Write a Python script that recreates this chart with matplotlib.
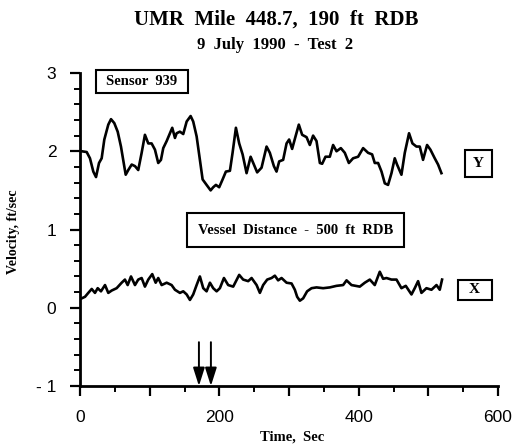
import matplotlib
matplotlib.use("Agg")
import matplotlib.pyplot as plt
from matplotlib.patches import Rectangle
from matplotlib.ticker import MultipleLocator, FuncFormatter

# ---- data ----
y_time = [2.4, 9.6, 14.3, 19.1, 23.0, 27.3, 31.1, 34.9, 40.6, 44.5, 49.2, 54.1, 58.8, 63.5, 65.6,
          69.3, 74.2, 78.9, 83.6, 88.5, 93.2, 98.0, 102.8, 107.6, 112.3, 116.2, 119.5, 124.4, 129.1,
          132.4, 136.3, 138.7, 143.4, 148.2, 153.1, 158.8, 162.5, 167.4, 172.1, 176.0, 181.7, 187.5,
          191.2, 195.1, 199.8, 204.7, 209.4, 215.2, 219.0, 223.8, 228.5, 233.4, 239.1, 244.9, 249.6,
          254.3, 260.6, 267.8, 272.5, 278.3, 282.1, 285.9, 291.6, 296.5, 300.2, 304.5, 309.4, 314.1,
          318.9, 325.2, 329.9, 334.6, 339.5, 344.3, 347.6, 352.4, 358.6, 363.3, 368.2, 374.4, 380.1,
          385.9, 392.0, 399.2, 406.4, 413.5, 419.3, 423.1, 427.9, 432.8, 437.5, 442.2, 447.1, 451.8,
          455.1, 461.4, 466.2, 472.3, 477.2, 482.9, 487.7, 492.4, 498.2, 503.0, 509.2, 514.0, 518.8]
y_vel = [2.00, 1.99, 1.91, 1.74, 1.67, 1.85, 1.91, 2.15, 2.34, 2.41, 2.36, 2.25, 2.06, 1.81, 1.70,
         1.76, 1.83, 1.81, 1.76, 1.98, 2.21, 2.10, 2.10, 2.02, 1.85, 1.89, 2.04, 2.13, 2.23,
         2.30, 2.17, 2.23, 2.25, 2.22, 2.38, 2.45, 2.38, 2.19, 1.89, 1.64, 1.57, 1.50,
         1.54, 1.57, 1.54, 1.64, 1.74, 1.75, 1.98, 2.30, 2.10, 1.96, 1.72, 1.93, 1.83,
         1.73, 1.79, 2.06, 1.98, 1.81, 1.74, 1.87, 1.89, 2.10, 2.15, 2.03, 2.19, 2.34,
         2.21, 2.18, 2.08, 2.20, 2.13, 1.85, 1.84, 1.93, 1.93, 2.08, 2.00, 2.04, 1.98,
         1.85, 1.91, 1.93, 2.04, 1.98, 1.96, 1.85, 1.85, 1.74, 1.59, 1.57, 1.72, 1.91,
         1.83, 1.70, 1.98, 2.23, 2.10, 2.06, 2.06, 1.89, 2.08, 2.02, 1.91, 1.83, 1.72]

x_time = [2.4, 7.2, 11.9, 16.8, 21.5, 25.4, 30.1, 35.9, 40.6, 45.5, 52.6, 59.8, 64.5, 68.4, 73.2,
          78.9, 83.6, 88.5, 93.2, 98.0, 103.7, 108.6, 112.3, 117.2, 124.4, 131.5, 136.3, 143.4,
          148.2, 153.1, 157.8, 162.5, 167.4, 172.1, 176.9, 181.7, 186.5, 191.2, 196.1, 200.8,
          206.6, 212.7, 219.9, 228.5, 234.2, 241.4, 246.3, 253.5, 258.2, 262.9, 268.7, 275.0,
          279.7, 284.4, 289.3, 296.5, 303.7, 308.4, 311.7, 315.6, 320.3, 326.0, 332.4, 339.5,
          349.0, 358.6, 368.2, 377.7, 382.6, 389.7, 401.6, 408.8, 416.0, 423.1, 430.3, 435.1,
          439.9, 447.1, 454.3, 461.4, 467.6, 475.8, 480.5, 485.3, 490.1, 497.3, 504.5, 511.7,
          516.4, 519.7]
x_vel = [0.12, 0.14, 0.19, 0.24, 0.19, 0.25, 0.21, 0.29, 0.19, 0.22, 0.25, 0.32, 0.36, 0.29, 0.40,
         0.29, 0.36, 0.38, 0.27, 0.36, 0.43, 0.32, 0.38, 0.29, 0.32, 0.29, 0.23, 0.19,
         0.21, 0.17, 0.10, 0.17, 0.29, 0.40, 0.25, 0.21, 0.32, 0.25, 0.21, 0.25,
         0.38, 0.29, 0.27, 0.42, 0.36, 0.34, 0.38, 0.29, 0.19, 0.29, 0.36, 0.38,
         0.41, 0.35, 0.38, 0.32, 0.31, 0.23, 0.14, 0.09, 0.12, 0.21, 0.25, 0.26,
         0.25, 0.26, 0.28, 0.29, 0.35, 0.29, 0.27, 0.32, 0.36, 0.29, 0.46, 0.37,
         0.38, 0.36, 0.36, 0.25, 0.28, 0.17, 0.25, 0.34, 0.19, 0.25, 0.23, 0.29,
         0.23, 0.36]

arrow_times = [170.7, 187.9]
x_tick_labels = {0: "0", 200: "200", 400: "400", 600: "600"}
y_tick_labels = {3: "3", 2: "2", 1: "1", 0: "0", -1: "- 1"}

title = "UMR  Mile  448.7,  190  ft  RDB"
subtitle = "9  July  1990  -  Test  2"

serif = ["Liberation Serif", "DejaVu Serif"]
sans = ["Liberation Sans", "DejaVu Sans"]

fig = plt.figure(figsize=(5.28, 4.48), dpi=100)
ax = fig.add_axes([80/528, 62/448, 418/528, 313/448])

ax.plot(y_time, y_vel, color="black", lw=1.9, solid_joinstyle="round")
ax.plot(x_time, x_vel, color="black", lw=1.9, solid_joinstyle="round")

ax.set_xlim(0, 600)
ax.set_ylim(-1, 3)
for s in ["top", "right"]:
    ax.spines[s].set_visible(False)
for s in ["left", "bottom"]:
    ax.spines[s].set_linewidth(2.0)

ax.xaxis.set_major_locator(MultipleLocator(100))
ax.xaxis.set_minor_locator(MultipleLocator(50))
ax.yaxis.set_major_locator(MultipleLocator(1))
ax.yaxis.set_minor_locator(MultipleLocator(0.2))
ax.xaxis.set_major_formatter(FuncFormatter(lambda v, p: x_tick_labels.get(int(round(v)), "")))
ax.yaxis.set_major_formatter(FuncFormatter(lambda v, p: y_tick_labels.get(int(round(v)), "")))
ax.tick_params(which="major", length=7, width=1.6, direction="out", pad=10, labelsize=12.5)
ax.tick_params(which="minor", length=4, width=1.4, direction="out")
for lab in ax.get_xticklabels() + ax.get_yticklabels():
    lab.set_fontfamily(sans)

# arrows
for t in arrow_times:
    ax.annotate("", xy=(t, -1.0), xytext=(t, -0.44),
                arrowprops=dict(arrowstyle="-|>,head_length=1.1,head_width=0.35",
                                color="black", lw=1.4, shrinkA=0, shrinkB=0))

# boxes
def box(x0, x1, y0, y1, xc, yc, txt, fs):
    ax.add_patch(Rectangle((x0, y0), x1 - x0, y1 - y0, fill=False, edgecolor="black",
                           lw=1.5, clip_on=False))
    ax.text(xc, yc, txt, ha="center", va="center", fontsize=fs, fontweight="bold",
            family=serif, clip_on=False)

box(23, 155, 2.75, 3.04, 89, 2.895, "Sensor  939", 10.5)
box(153.6, 464.7, 0.77, 1.21, 309, 0.99, "Vessel  Distance  -  500  ft  RDB", 10.5)
box(552, 592, 1.67, 2.02, 572, 1.845, "Y", 11)
box(542, 591, 0.10, 0.36, 566.5, 0.23, "X", 11)

fig.text(276/528, 1 - 20/448, title, ha="center", va="center", fontsize=15,
         fontweight="bold", family=serif)
fig.text(275/528, 1 - 45/448, subtitle, ha="center", va="center", fontsize=12,
         fontweight="bold", family=serif)
fig.text(292/528, 1 - 437/448, "Time,  Sec", ha="center", va="center", fontsize=10.5,
         fontweight="bold", family=serif)
fig.text(14/528, 1 - 232/448, "Velocity, ft/sec", ha="center", va="center", fontsize=10,
         fontweight="bold", family=serif, rotation=90)

fig.savefig("out.png", dpi=100)
